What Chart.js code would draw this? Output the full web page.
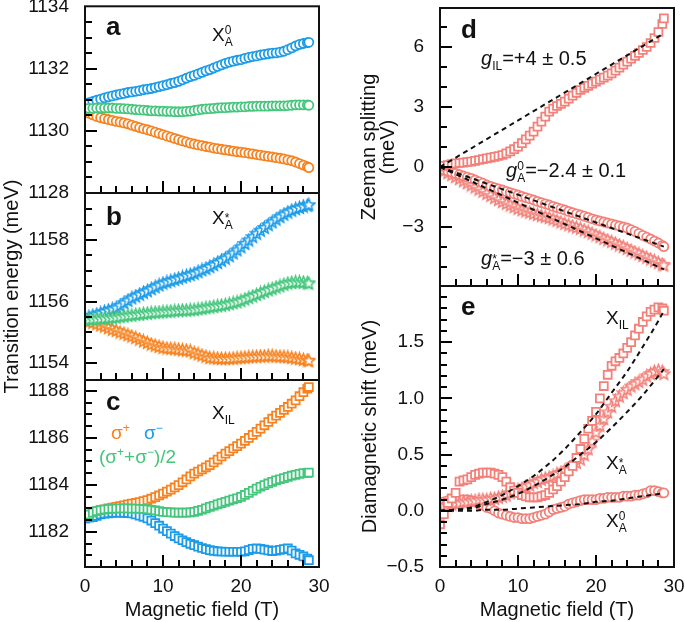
<!DOCTYPE html>
<html>
<head>
<meta charset="utf-8">
<script src="https://cdn.jsdelivr.net/npm/chart.js@4/dist/chart.umd.min.js"></script>
<style>
body { margin: 0; background: #fff; overflow: hidden; }
#fig { position: relative; width: 685px; height: 622px; font-family: 'Liberation Sans', Arial, sans-serif; color: #111; }
#fig canvas { position: absolute; left: 0; top: 0; }
.lbl { position: absolute; line-height: 1; white-space: nowrap; font-size: 19px; }
.pl { font-weight: bold; font-size: 26px; }
.g { font-size: 20px; }
.sp { font-size: 12px; position: relative; top: -7px; }
.sb { font-size: 12px; position: relative; top: 5px; }
.st { font-size: 12px; position: relative; top: -2px; }
</style>
</head>
<body>
<div id="fig">
  <canvas id="pa" width="685" height="622"></canvas>
  <canvas id="pb" width="685" height="622"></canvas>
  <canvas id="pc" width="685" height="622"></canvas>
  <canvas id="pd" width="685" height="622"></canvas>
  <canvas id="pe" width="685" height="622"></canvas>

  <div class="lbl pl" style="left:106px;top:13px">a</div>
  <div class="lbl pl" style="left:106px;top:203px">b</div>
  <div class="lbl pl" style="left:106px;top:388px">c</div>
  <div class="lbl pl" style="left:461px;top:16px">d</div>
  <div class="lbl pl" style="left:461px;top:293px">e</div>

  <div class="lbl" style="left:212px;top:25px">X<span class="sp">0</span><span class="sb" style="margin-left:-0.556em">A</span></div>
  <div class="lbl" style="left:212px;top:208px">X<span class="st">*</span><span class="sb" style="margin-left:-0.389em">A</span></div>
  <div class="lbl" style="left:212px;top:403px">X<span class="sb">IL</span></div>

  <div class="lbl" style="left:111px;top:423px;color:#f7821f">σ<span class="sp">+</span></div>
  <div class="lbl" style="left:144px;top:423px;color:#1b9be8">σ<span class="sp">−</span></div>
  <div class="lbl" style="left:99px;top:447px;color:#46c67d">(σ<span class="sp">+</span>+σ<span class="sp">−</span>)/2</div>

  <div class="lbl g" style="left:481px;top:48px"><i>g</i><span class="sb">IL</span>=+4 ± 0.5</div>
  <div class="lbl g" style="left:506px;top:160px"><i>g</i><span class="sp">0</span><span class="sb" style="margin-left:-0.556em">A</span>=−2.4 ± 0.1</div>
  <div class="lbl g" style="left:481px;top:248px"><i>g</i><span class="st">*</span><span class="sb" style="margin-left:-0.389em">A</span>=−3 ± 0.6</div>

  <div class="lbl" style="left:606px;top:308px">X<span class="sb">IL</span></div>
  <div class="lbl" style="left:606px;top:453px">X<span class="st">*</span><span class="sb" style="margin-left:-0.389em">A</span></div>
  <div class="lbl" style="left:606px;top:511px">X<span class="sp">0</span><span class="sb" style="margin-left:-0.556em">A</span></div>
</div>

<script>
// Magnetic field values (T) for the measured points
const field = [0, 0.5, 1, 1.5, 2, 2.5, 3, 3.5, 4, 4.5,
  5, 5.5, 6, 6.5, 7, 7.5, 8, 8.5, 9, 9.5,
  10, 10.5, 11, 11.5, 12, 12.5, 13, 13.5, 14, 14.5,
  15, 15.5, 16, 16.5, 17, 17.5, 18, 18.5, 19, 19.5,
  20, 20.5, 21, 21.5, 22, 22.5, 23, 23.5, 24, 24.5,
  25, 25.5, 26, 26.5, 27, 27.5, 28, 28.5, 28.7];

// panel a: X_A^0 transition energy (meV)
const aPlus = [1130.62, 1130.57, 1130.52, 1130.47, 1130.43, 1130.40, 1130.37, 1130.34, 1130.31, 1130.29,
  1130.26, 1130.23, 1130.19, 1130.15, 1130.11, 1130.07, 1130.04, 1130.00, 1129.96, 1129.92,
  1129.88, 1129.84, 1129.80, 1129.76, 1129.72, 1129.68, 1129.65, 1129.61, 1129.58, 1129.55,
  1129.53, 1129.50, 1129.48, 1129.45, 1129.43, 1129.41, 1129.39, 1129.37, 1129.35, 1129.33,
  1129.32, 1129.30, 1129.28, 1129.26, 1129.24, 1129.22, 1129.20, 1129.18, 1129.16, 1129.14,
  1129.12, 1129.10, 1129.07, 1129.04, 1129.00, 1128.95, 1128.90, 1128.85, 1128.82];
const aMinus = [1130.86, 1130.91, 1130.95, 1130.99, 1131.03, 1131.07, 1131.10, 1131.13, 1131.16, 1131.19,
  1131.21, 1131.24, 1131.26, 1131.28, 1131.30, 1131.33, 1131.35, 1131.37, 1131.40, 1131.43,
  1131.46, 1131.49, 1131.53, 1131.56, 1131.60, 1131.65, 1131.70, 1131.75, 1131.79, 1131.84,
  1131.89, 1131.94, 1131.98, 1132.03, 1132.08, 1132.13, 1132.18, 1132.22, 1132.25, 1132.28,
  1132.30, 1132.34, 1132.37, 1132.40, 1132.42, 1132.45, 1132.47, 1132.49, 1132.51, 1132.52,
  1132.54, 1132.57, 1132.62, 1132.68, 1132.74, 1132.79, 1132.82, 1132.85, 1132.86];
const aMean = [1130.72, 1130.73, 1130.73, 1130.74, 1130.74, 1130.74, 1130.74, 1130.74, 1130.73, 1130.73,
  1130.72, 1130.71, 1130.70, 1130.69, 1130.68, 1130.67, 1130.66, 1130.65, 1130.65, 1130.64,
  1130.64, 1130.63, 1130.63, 1130.62, 1130.62, 1130.62, 1130.63, 1130.64, 1130.66, 1130.68,
  1130.70, 1130.71, 1130.72, 1130.73, 1130.74, 1130.75, 1130.75, 1130.76, 1130.77, 1130.77,
  1130.78, 1130.78, 1130.79, 1130.79, 1130.80, 1130.80, 1130.80, 1130.80, 1130.81, 1130.81,
  1130.81, 1130.81, 1130.82, 1130.83, 1130.84, 1130.84, 1130.84, 1130.84, 1130.83];

// panel b: X_A^*
const bPlus = [1155.39, 1155.36, 1155.32, 1155.28, 1155.24, 1155.20, 1155.15, 1155.10, 1155.06, 1155.01,
  1154.97, 1154.92, 1154.88, 1154.83, 1154.78, 1154.72, 1154.67, 1154.62, 1154.58, 1154.54,
  1154.51, 1154.49, 1154.48, 1154.47, 1154.45, 1154.43, 1154.42, 1154.40, 1154.34, 1154.30,
  1154.26, 1154.22, 1154.18, 1154.17, 1154.16, 1154.15, 1154.15, 1154.15, 1154.16, 1154.17,
  1154.18, 1154.19, 1154.20, 1154.21, 1154.22, 1154.23, 1154.23, 1154.24, 1154.24, 1154.23,
  1154.22, 1154.21, 1154.20, 1154.18, 1154.16, 1154.14, 1154.12, 1154.10, 1154.08];
const bMinus = [1155.47, 1155.51, 1155.55, 1155.59, 1155.63, 1155.68, 1155.72, 1155.76, 1155.80, 1155.88,
  1155.96, 1156.04, 1156.12, 1156.18, 1156.24, 1156.30, 1156.35, 1156.42, 1156.48, 1156.54,
  1156.60, 1156.64, 1156.68, 1156.72, 1156.76, 1156.80, 1156.84, 1156.88, 1156.92, 1156.97,
  1157.03, 1157.08, 1157.14, 1157.20, 1157.27, 1157.34, 1157.41, 1157.49, 1157.58, 1157.68,
  1157.78, 1157.89, 1158.00, 1158.11, 1158.22, 1158.32, 1158.41, 1158.50, 1158.59, 1158.68,
  1158.76, 1158.84, 1158.91, 1158.97, 1159.02, 1159.06, 1159.10, 1159.13, 1159.15];
const bMean = [1155.42, 1155.42, 1155.43, 1155.44, 1155.45, 1155.46, 1155.47, 1155.48, 1155.49, 1155.51,
  1155.53, 1155.55, 1155.56, 1155.58, 1155.59, 1155.61, 1155.62, 1155.64, 1155.65, 1155.66,
  1155.67, 1155.68, 1155.69, 1155.70, 1155.71, 1155.72, 1155.72, 1155.73, 1155.74, 1155.76,
  1155.78, 1155.80, 1155.82, 1155.84, 1155.86, 1155.88, 1155.90, 1155.93, 1155.96, 1155.99,
  1156.03, 1156.08, 1156.13, 1156.18, 1156.23, 1156.28, 1156.33, 1156.38, 1156.42, 1156.47,
  1156.51, 1156.56, 1156.60, 1156.62, 1156.64, 1156.64, 1156.63, 1156.61, 1156.60];

// panel c: X_IL
const cPlus = [1182.57, 1182.70, 1182.80, 1182.87, 1182.92, 1182.96, 1183.00, 1183.03, 1183.06, 1183.10,
  1183.13, 1183.17, 1183.20, 1183.23, 1183.27, 1183.31, 1183.35, 1183.41, 1183.48, 1183.55,
  1183.63, 1183.71, 1183.80, 1183.89, 1183.99, 1184.11, 1184.23, 1184.36, 1184.48, 1184.57,
  1184.66, 1184.75, 1184.84, 1184.96, 1185.08, 1185.21, 1185.33, 1185.44, 1185.55, 1185.65,
  1185.76, 1185.88, 1186.00, 1186.13, 1186.26, 1186.40, 1186.54, 1186.68, 1186.82, 1186.95,
  1187.07, 1187.20, 1187.32, 1187.46, 1187.60, 1187.78, 1187.95, 1188.10, 1188.17];
const cMinus = [1182.57, 1182.60, 1182.62, 1182.68, 1182.74, 1182.77, 1182.79, 1182.81, 1182.82, 1182.82,
  1182.81, 1182.80, 1182.78, 1182.74, 1182.69, 1182.64, 1182.57, 1182.48, 1182.37, 1182.26,
  1182.14, 1182.03, 1181.92, 1181.82, 1181.72, 1181.64, 1181.56, 1181.49, 1181.43, 1181.37,
  1181.31, 1181.26, 1181.22, 1181.19, 1181.17, 1181.16, 1181.15, 1181.15, 1181.15, 1181.15,
  1181.15, 1181.17, 1181.22, 1181.27, 1181.29, 1181.27, 1181.24, 1181.21, 1181.18, 1181.20,
  1181.23, 1181.26, 1181.29, 1181.20, 1181.08, 1181.02, 1180.95, 1180.86, 1180.79];
const cMean = [1182.64, 1182.74, 1182.82, 1182.88, 1182.92, 1182.95, 1182.97, 1182.98, 1182.99, 1183.00,
  1183.00, 1183.00, 1182.99, 1182.99, 1182.98, 1182.97, 1182.96, 1182.94, 1182.91, 1182.88,
  1182.85, 1182.84, 1182.83, 1182.82, 1182.82, 1182.82, 1182.82, 1182.83, 1182.85, 1182.89,
  1182.94, 1183.00, 1183.06, 1183.11, 1183.17, 1183.22, 1183.28, 1183.33, 1183.38, 1183.43,
  1183.49, 1183.57, 1183.66, 1183.75, 1183.84, 1183.92, 1183.99, 1184.06, 1184.13, 1184.19,
  1184.24, 1184.29, 1184.34, 1184.39, 1184.43, 1184.47, 1184.50, 1184.51, 1184.52];

// panel d: Zeeman splitting (meV)
const dIL = [0.02, 0.06, 0.10, 0.14, 0.18, 0.20, 0.22, 0.25, 0.27, 0.31,
  0.35, 0.39, 0.43, 0.47, 0.51, 0.55, 0.60, 0.68, 0.78, 0.89,
  1.02, 1.19, 1.38, 1.57, 1.77, 2.02, 2.27, 2.52, 2.77, 2.92,
  3.05, 3.16, 3.27, 3.42, 3.57, 3.71, 3.85, 3.96, 4.06, 4.17,
  4.27, 4.37, 4.47, 4.57, 4.68, 4.82, 4.97, 5.12, 5.27, 5.42,
  5.56, 5.70, 5.85, 6.00, 6.20, 6.45, 6.75, 7.15, 7.43];
const dA0 = [-0.07, -0.13, -0.20, -0.26, -0.32, -0.38, -0.45, -0.51, -0.57, -0.65,
  -0.73, -0.81, -0.90, -0.97, -1.03, -1.09, -1.15, -1.22, -1.28, -1.34,
  -1.40, -1.47, -1.53, -1.59, -1.65, -1.72, -1.78, -1.84, -1.90, -1.97,
  -2.03, -2.09, -2.15, -2.22, -2.28, -2.34, -2.40, -2.46, -2.52, -2.59,
  -2.65, -2.70, -2.75, -2.80, -2.85, -2.90, -2.95, -3.00, -3.05, -3.13,
  -3.22, -3.32, -3.42, -3.51, -3.60, -3.70, -3.80, -3.92, -3.98];
const dAStar = [-0.10, -0.19, -0.29, -0.38, -0.48, -0.58, -0.69, -0.79, -0.90, -1.00,
  -1.11, -1.21, -1.32, -1.42, -1.53, -1.63, -1.73, -1.82, -1.90, -1.99,
  -2.07, -2.14, -2.20, -2.26, -2.32, -2.38, -2.43, -2.48, -2.53, -2.60,
  -2.67, -2.75, -2.82, -2.89, -2.95, -3.01, -3.07, -3.15, -3.23, -3.31,
  -3.40, -3.48, -3.57, -3.65, -3.73, -3.81, -3.90, -3.98, -4.07, -4.16,
  -4.25, -4.34, -4.43, -4.51, -4.60, -4.69, -4.78, -4.86, -4.90];
const dFitField = [0, 28.7];
const dFitIL = [0, 6.68];
const dFitA0 = [0, -3.98];
const dFitAStar = [0, -5.12];

// panel e: diamagnetic shift (meV)
const eIL = [-0.12, -0.03, 0.07, 0.11, 0.16, 0.26, 0.27, 0.28, 0.30, 0.32,
  0.33, 0.34, 0.34, 0.34, 0.33, 0.32, 0.30, 0.26, 0.21, 0.18,
  0.16, 0.14, 0.13, 0.12, 0.12, 0.12, 0.13, 0.14, 0.16, 0.19,
  0.22, 0.26, 0.30, 0.35, 0.40, 0.47, 0.55, 0.64, 0.73, 0.80,
  0.88, 1.00, 1.11, 1.21, 1.29, 1.33, 1.36, 1.40, 1.45, 1.50,
  1.56, 1.62, 1.68, 1.73, 1.77, 1.79, 1.81, 1.80, 1.78];
const eAStar = [0.04, 0.05, 0.05, 0.06, 0.07, 0.07, 0.08, 0.08, 0.09, 0.09,
  0.10, 0.10, 0.10, 0.11, 0.11, 0.12, 0.13, 0.14, 0.16, 0.17,
  0.19, 0.20, 0.22, 0.23, 0.25, 0.26, 0.28, 0.29, 0.30, 0.31,
  0.33, 0.34, 0.36, 0.38, 0.41, 0.43, 0.46, 0.50, 0.55, 0.62,
  0.70, 0.76, 0.82, 0.88, 0.93, 0.98, 1.02, 1.05, 1.08, 1.11,
  1.13, 1.15, 1.17, 1.20, 1.22, 1.24, 1.25, 1.24, 1.22];
const eA0 = [0.07, 0.08, 0.09, 0.10, 0.10, 0.10, 0.10, 0.10, 0.09, 0.08,
  0.06, 0.05, 0.03, 0.02, 0.00, -0.02, -0.03, -0.04, -0.05, -0.06,
  -0.06, -0.07, -0.07, -0.07, -0.06, -0.05, -0.04, -0.03, -0.01, 0.01,
  0.02, 0.03, 0.04, 0.06, 0.07, 0.08, 0.09, 0.10, 0.10, 0.10,
  0.10, 0.11, 0.11, 0.12, 0.12, 0.12, 0.12, 0.13, 0.13, 0.13,
  0.14, 0.14, 0.15, 0.16, 0.18, 0.18, 0.17, 0.16, 0.16];
const eFitField = [0, 2, 4, 6, 8, 10, 12, 14, 16, 18, 20, 22, 24, 26, 28, 28.7];
const eFitIL = [0, 0.01, 0.03, 0.08, 0.14, 0.22, 0.31, 0.42, 0.55, 0.70, 0.86, 1.05, 1.24, 1.46, 1.69, 1.78];
const eFitAStar = [0, 0.01, 0.02, 0.06, 0.10, 0.15, 0.22, 0.30, 0.39, 0.50, 0.61, 0.74, 0.88, 1.03, 1.20, 1.26];
const eFitA0 = [0, 0, 0, 0.01, 0.01, 0.02, 0.03, 0.04, 0.05, 0.06, 0.08, 0.09, 0.11, 0.13, 0.15, 0.16];

// tick labels
const fieldTicks = [0, 10, 20, 30];
const ticksA = [1128, 1130, 1132, 1134];
const ticksB = [1154, 1156, 1158];
const ticksC = [1182, 1184, 1186, 1188];
const ticksD = [-3, 0, 3, 6];
const ticksE = [-0.5, 0, 0.5, 1.0, 1.5];

const ORANGE = '#f7821f', BLUE = '#1b9be8', GREEN = '#46c67d', SALMON = '#f2817a', INK = '#111';

Chart.defaults.font.family = "'Liberation Sans', Arial, sans-serif";
Chart.defaults.color = INK;

function pts(xs, ys) {
  return xs.map((x, i) => ({x: x, y: ys[i]}));
}

// open five-pointed star used as a marker
function starMark(color) {
  const c = document.createElement('canvas');
  c.width = c.height = 15;
  const g = c.getContext('2d');
  g.beginPath();
  for (let i = 0; i < 10; i++) {
    const r = i % 2 ? 2.8 : 6.3;
    const t = -Math.PI / 2 + i * Math.PI / 5;
    g.lineTo(7.5 + r * Math.cos(t), 8 + r * Math.sin(t));
  }
  g.closePath();
  g.fillStyle = '#fff';
  g.fill();
  g.strokeStyle = color;
  g.lineWidth = 1.6;
  g.stroke();
  return c;
}

function markers(ys, color, style) {
  const r = style === 'rect' ? 5.6 : 4.5;
  return {
    data: pts(field, ys),
    showLine: false,
    pointStyle: style === 'star' ? starMark(color) : style,
    pointRadius: r,
    pointBorderWidth: 1.8,
    pointBorderColor: color,
    pointBackgroundColor: '#fff'
  };
}

function fitLine(xs, ys) {
  return {
    data: pts(xs, ys),
    showLine: true,
    pointRadius: 0,
    borderColor: INK,
    borderWidth: 2,
    borderDash: [5, 4],
    cubicInterpolationMode: 'monotone',
    fill: false
  };
}

// frame plus inward major/minor ticks
function frameTicks(minor) {
  return {
    id: 'frameTicks',
    afterDraw(chart) {
      const ctx = chart.ctx, a = chart.chartArea, x = chart.scales.x, y = chart.scales.y;
      ctx.save();
      ctx.fillStyle = '#000';
      const n0 = Math.ceil(y.min / minor.yMinor - 1e-6), n1 = Math.floor(y.max / minor.yMinor + 1e-6);
      for (let n = n0; n <= n1; n++) {
        const v = n * minor.yMinor;
        const py = y.getPixelForValue(v);
        if (py < a.top + 2 || py > a.bottom - 2) continue;
        const q = v / minor.yMajor;
        const len = Math.abs(q - Math.round(q)) < 1e-6 ? 12 : 7;
        ctx.fillRect(a.left, Math.round(py) - 1, len, 2);
      }
      for (let v = 2; v < 30; v += 2) {
        const px = x.getPixelForValue(v);
        const len = v % 10 === 0 ? 12 : 7;
        ctx.fillRect(Math.round(px) - 1, a.bottom - len, 2, len);
      }
      ctx.strokeStyle = INK;
      ctx.lineWidth = 2;
      ctx.strokeRect(a.left, a.top, a.right - a.left, a.bottom - a.top);
      ctx.restore();
    }
  };
}

function panel(id, o) {
  return new Chart(document.getElementById(id), {
    type: 'scatter',
    data: {datasets: o.datasets},
    options: {
      responsive: false,
      animation: false,
      events: [],
      layout: {padding: o.pad},
      plugins: {
        legend: {display: false},
        tooltip: {enabled: false}
      },
      scales: {
        x: {
          type: 'linear', min: 0, max: 30,
          grid: {display: false},
          border: {display: false},
          afterBuildTicks: s => { s.ticks = fieldTicks.map(v => ({value: v})); },
          ticks: {display: o.xLabels, padding: 0, font: {size: 19}, maxRotation: 0},
          title: {display: o.xLabels, text: 'Magnetic field (T)', font: {size: 20}, padding: 0},
          afterFit: s => { s.height = o.xLabels ? 55 : 0; s.paddingLeft = 0; s.paddingRight = 0; }
        },
        y: {
          type: 'linear', min: o.min, max: o.max,
          grid: {display: false},
          border: {display: false},
          afterBuildTicks: s => { s.ticks = o.ticks.map(v => ({value: v})); },
          ticks: {padding: 8, font: {size: 19}, callback: o.fmt},
          title: o.title || {display: false},
          afterFit: s => { s.width = 85; s.paddingTop = 0; s.paddingBottom = 0; }
        }
      }
    },
    plugins: [frameTicks(o.minor)]
  });
}

const plain = v => String(v);
const signed = v => (v < 0 ? '\u2212' : '') + Math.abs(v);
const oneDec = v => (v < 0 ? '\u2212' : '') + Math.abs(v).toFixed(1);

panel('pa', {
  pad: {left: 0, top: 5, right: 366, bottom: 429},
  min: 1128, max: 1134.02, ticks: ticksA, fmt: plain, xLabels: false,
  minor: {yMinor: 0.5, yMajor: 2},
  datasets: [markers(aMean, GREEN, 'circle'), markers(aMinus, BLUE, 'circle'), markers(aPlus, ORANGE, 'circle')]
});

panel('pb', {
  pad: {left: 0, top: 193, right: 366, bottom: 242},
  min: 1153.45, max: 1159.53, ticks: ticksB, fmt: plain, xLabels: false,
  minor: {yMinor: 0.5, yMajor: 2},
  title: {display: true, text: 'Transition energy (meV)', font: {size: 20}, padding: {top: 0, bottom: 0}},
  datasets: [markers(bMean, GREEN, 'star'), markers(bMinus, BLUE, 'star'), markers(bPlus, ORANGE, 'star')]
});

panel('pc', {
  pad: {left: 0, top: 380, right: 366, bottom: 0},
  min: 1180.5, max: 1188.47, ticks: ticksC, fmt: plain, xLabels: true,
  minor: {yMinor: 0.5, yMajor: 2},
  datasets: [markers(cMean, GREEN, 'rect'), markers(cMinus, BLUE, 'rect'), markers(cPlus, ORANGE, 'rect')]
});

panel('pd', {
  pad: {left: 355, top: 8, right: 11, bottom: 336},
  min: -5.95, max: 7.95, ticks: ticksD, fmt: signed, xLabels: false,
  minor: {yMinor: 1, yMajor: 3},
  title: {display: true, text: ['Zeeman splitting', '(meV)'], font: {size: 20, lineHeight: 0.95}, padding: {top: 4.5, bottom: 0}},
  datasets: [
    fitLine(dFitField, dFitIL), fitLine(dFitField, dFitA0), fitLine(dFitField, dFitAStar),
    markers(dIL, SALMON, 'rect'), markers(dA0, SALMON, 'circle'), markers(dAStar, SALMON, 'star')
  ]
});

panel('pe', {
  pad: {left: 355, top: 286, right: 11, bottom: 0},
  min: -0.5, max: 2.0, ticks: ticksE, fmt: oneDec, xLabels: true,
  minor: {yMinor: 0.1, yMajor: 0.5},
  title: {display: true, text: 'Diamagnetic shift (meV)', font: {size: 20, lineHeight: 0.95}, padding: {top: 5.5, bottom: 0}},
  datasets: [
    fitLine(eFitField, eFitIL), fitLine(eFitField, eFitAStar), fitLine(eFitField, eFitA0),
    markers(eIL, SALMON, 'rect'), markers(eAStar, SALMON, 'star'), markers(eA0, SALMON, 'circle')
  ]
});
</script>
</body>
</html>
